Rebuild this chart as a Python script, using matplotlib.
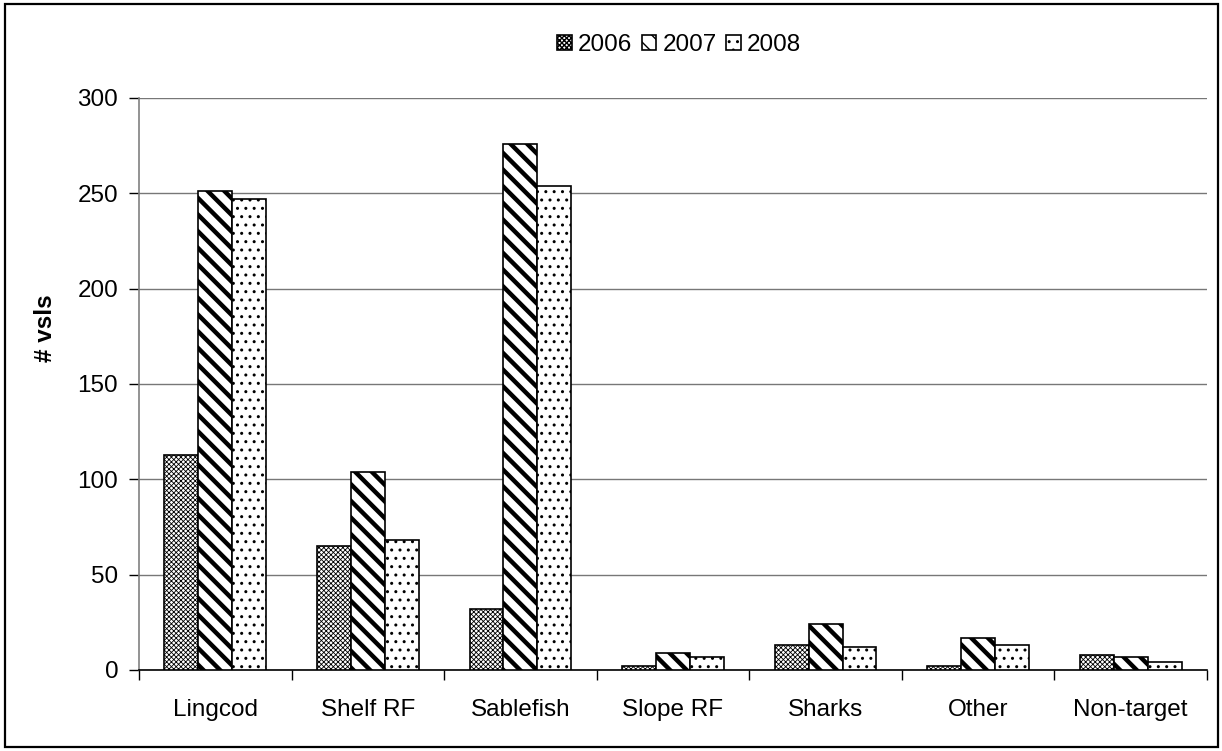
import matplotlib
matplotlib.use("Agg")
import matplotlib.pyplot as plt
import numpy as np
from matplotlib.patches import Rectangle

plt.rcParams['font.family'] = ['Liberation Sans', 'DejaVu Sans']

categories = ["Lingcod", "Shelf RF", "Sablefish", "Slope RF", "Sharks", "Other", "Non-target"]
years = ["2006", "2007", "2008"]
vals_2006 = [113, 65, 32, 2, 13, 2, 8]
vals_2007 = [251, 104, 276, 9, 24, 17, 7]
vals_2008 = [247, 68, 254, 7, 12, 13, 4]
series = [vals_2006, vals_2007, vals_2008]

hatches = ["xxxxxxx", "\\\\", ".."]
hatch_lw = [0.6, 3.2, 1.0]
FS = 17.5

W, H = 1222, 751
fig = plt.figure(figsize=(W / 100, H / 100), dpi=100)
ax = fig.add_axes([139 / W, (H - 670) / H, (1207 - 139) / W, (670 - 98) / H])

x = np.arange(len(categories))
bw = 1 / 4.5
bars = []
for i, (vals, h, lw) in enumerate(zip(series, hatches, hatch_lw)):
    with plt.rc_context({'hatch.linewidth': lw}):
        b = ax.bar(x + (i - 1) * bw, vals, width=bw, color='white',
                   edgecolor='black', linewidth=1.2, hatch=h, label=years[i],
                   zorder=3)
    for p in b:
        if hasattr(p, 'set_hatch_linewidth'):
            p.set_hatch_linewidth(lw)
    bars.append(b)

ax.set_xlim(-0.5, len(categories) - 0.5)
ax.set_ylim(0, 300)
ax.set_yticks(np.arange(0, 301, 50))
ax.set_xticks(np.arange(-0.5, len(categories), 1.0))
ax.set_xticklabels([])
ax.set_xticks(x, minor=True)
ax.set_xticklabels(categories, minor=True)
ax.tick_params(axis='x', which='minor', length=0, pad=21, labelsize=FS)
ax.tick_params(axis='x', which='major', length=7, width=1, direction='out')
ax.tick_params(axis='y', length=7, width=1, direction='out', labelsize=FS, pad=8)

ax.yaxis.grid(True, color='#777777', linewidth=1.0, zorder=0)
ax.set_axisbelow(True)
for s in ['top', 'right']:
    ax.spines[s].set_visible(False)
ax.spines['left'].set_color('#808080')
ax.spines['left'].set_linewidth(1.2)
ax.spines['bottom'].set_color('black')
ax.spines['bottom'].set_linewidth(1.2)

ax.set_ylabel("# vsls", fontsize=FS, fontweight='bold')
ax.yaxis.set_label_coords((57 - 139) / 1068, (670 - 328) / 572)

leg = fig.legend(handles=bars, labels=years, loc='center',
                 bbox_to_anchor=(679 / W, 1 - 45 / H), ncol=3, frameon=False,
                 fontsize=FS, handlelength=0.6, handleheight=0.6,
                 handletextpad=0.25, columnspacing=0.4, borderpad=0)

fig.patches.append(Rectangle((5 / W, 4 / H), (W - 9) / W, (H - 8) / H,
                             transform=fig.transFigure, fill=False,
                             edgecolor='black', linewidth=1.6))

fig.savefig("out.png", dpi=100)
